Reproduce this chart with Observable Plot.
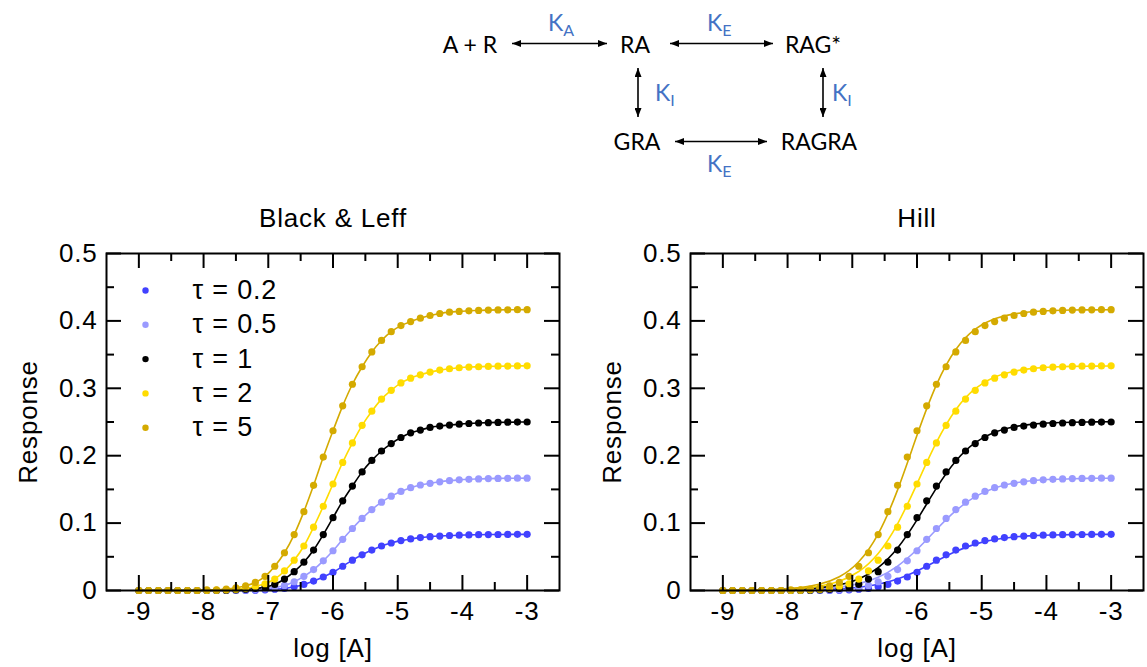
<!DOCTYPE html>
<html><head><meta charset="utf-8">
<script src="https://cdn.jsdelivr.net/npm/d3@7"></script>
<script src="https://cdn.jsdelivr.net/npm/@observablehq/plot@0.6"></script>
<style>
html,body{margin:0;padding:0;background:#fff;}
#wrap{position:relative;width:1147px;height:667px;overflow:hidden;background:#fff;}
#scheme{position:absolute;left:0;top:0;}
#left{position:absolute;left:0;top:190px;}
#right{position:absolute;left:573px;top:190px;}
#scheme text{font-family:Lato,'Open Sans',sans-serif;font-size:23px;}
</style></head>
<body><div id="wrap">
<svg id="scheme" width="1147" height="190">
<defs><marker id="ah" markerUnits="userSpaceOnUse" viewBox="0 0 9 7" refX="9" refY="3.5" markerWidth="9" markerHeight="7" orient="auto-start-reverse"><path d="M0,0L9,3.5L0,7z" fill="#000"/></marker></defs>
<g stroke="#000" stroke-width="1.6">
<line x1="512" y1="43.5" x2="607" y2="43.5" marker-start="url(#ah)" marker-end="url(#ah)"/>
<line x1="670" y1="43.5" x2="773" y2="43.5" marker-start="url(#ah)" marker-end="url(#ah)"/>
<line x1="638" y1="68" x2="638" y2="117" marker-start="url(#ah)" marker-end="url(#ah)"/>
<line x1="823" y1="68" x2="823" y2="117" marker-start="url(#ah)" marker-end="url(#ah)"/>
<line x1="675" y1="141.5" x2="767" y2="141.5" marker-start="url(#ah)" marker-end="url(#ah)"/>
</g>
<g fill="#000" text-anchor="middle">
<text x="470" y="53">A + R</text>
<text x="635" y="53">RA</text>
<text x="813" y="53">RAG*</text>
<text x="637" y="150">GRA</text>
<text x="819" y="150">RAGRA</text>
</g>
<g fill="#4472C4">
<text x="548" y="31">K<tspan font-size="16" dy="5">A</tspan></text>
<text x="707" y="31">K<tspan font-size="16" dy="5">E</tspan></text>
<text x="655" y="101">K<tspan font-size="16" dy="5">I</tspan></text>
<text x="832" y="101">K<tspan font-size="16" dy="5">I</tspan></text>
<text x="707" y="172">K<tspan font-size="16" dy="5">E</tspan></text>
</g>
</svg>
<div id="left"></div><div id="right"></div>
</div>
<script>
// ---- data ----
const logA = [-9,-8.85,-8.7,-8.55,-8.4,-8.25,-8.1,-7.95,-7.8,-7.65,-7.5,-7.35,-7.2,-7.05,-6.9,-6.75,-6.6,-6.45,-6.3,-6.15,-6,-5.85,-5.7,-5.55,-5.4,-5.25,-5.1,-4.95,-4.8,-4.65,-4.5,-4.35,-4.2,-4.05,-3.9,-3.75,-3.6,-3.45,-3.3,-3.15,-3];
const tauLabels = ["τ = 0.2","τ = 0.5","τ = 1","τ = 2","τ = 5"];
const tauColors = ["#4141ff","#9a9aff","#000000","#ffdc00","#d4aa00"];
const resp_02 = [0,0,0,0,0,0,0,0,0,0,0,0,0.0005,0.001,0.002,0.003,0.0055,0.009,0.014,0.020,0.027,0.036,0.045,0.053,0.060,0.066,0.0705,0.074,0.0765,0.0785,0.0798,0.0808,0.0816,0.0821,0.0825,0.0828,0.083,0.0831,0.0832,0.0833,0.0833];
const resp_05 = [0,0,0,0,0,0,0,0,0,0,0,0.001,0.0015,0.0025,0.0043,0.0075,0.013,0.021,0.031,0.044,0.059,0.076,0.092,0.107,0.120,0.131,0.140,0.147,0.1525,0.1565,0.159,0.1613,0.163,0.1642,0.165,0.1655,0.166,0.1663,0.1665,0.1666,0.1667];
const resp_1 = [0,0,0,0,0,0,0,0,0,0.0005,0.001,0.002,0.003,0.005,0.009,0.017,0.028,0.042,0.060,0.083,0.108,0.133,0.155,0.176,0.193,0.207,0.218,0.227,0.234,0.238,0.242,0.244,0.2455,0.2468,0.2478,0.2485,0.249,0.2494,0.2497,0.2499,0.25];
const resp_2 = [0,0,0,0,0,0,0,0,0.0005,0.001,0.002,0.003,0.006,0.010,0.017,0.029,0.045,0.066,0.094,0.125,0.158,0.190,0.219,0.245,0.266,0.284,0.297,0.308,0.315,0.320,0.324,0.327,0.329,0.3305,0.3315,0.332,0.3325,0.3328,0.333,0.3332,0.3333];
const resp_5 = [0,0,0,0,0,0,0,0.001,0.001,0.002,0.004,0.007,0.012,0.021,0.036,0.056,0.083,0.117,0.156,0.198,0.237,0.274,0.306,0.332,0.354,0.371,0.384,0.393,0.399,0.404,0.408,0.411,0.413,0.414,0.415,0.4155,0.416,0.4163,0.4165,0.4166,0.4167];
// Hill fits (right panel lines)
const fitLogA = [-9,-8.7,-8.4,-8.1,-7.8,-7.5,-7.2,-6.9,-6.6,-6.3,-6,-5.7,-5.4,-5.1,-4.8,-4.5,-4.2,-3.9,-3.6,-3.3,-3];
const hill_02 = [0,0.0001,0.0001,0.0003,0.0006,0.0012,0.0024,0.0048,0.0093,0.0171,0.0290,0.0437,0.0579,0.0688,0.0756,0.0794,0.0814,0.0824,0.0829,0.0832,0.0833];
const hill_05 = [0.0001,0.0001,0.0003,0.0006,0.0012,0.0025,0.0051,0.0102,0.0198,0.0363,0.0608,0.0904,0.1184,0.1392,0.1522,0.1594,0.1631,0.1650,0.1659,0.1664,0.1666];
const hill_1 = [0.0001,0.0002,0.0004,0.0009,0.0019,0.0040,0.0083,0.0172,0.0341,0.0631,0.1048,0.1518,0.1921,0.2193,0.2349,0.2429,0.2469,0.2488,0.2497,0.2501,0.2503];
const hill_2 = [0.0002,0.0003,0.0007,0.0015,0.0031,0.0066,0.0138,0.0282,0.0550,0.0990,0.1583,0.2197,0.2683,0.2994,0.3166,0.3253,0.3295,0.3315,0.3325,0.3329,0.3331];
const hill_5 = [0.0002,0.0004,0.0009,0.0020,0.0043,0.0095,0.0204,0.0426,0.0840,0.1493,0.2303,0.3051,0.3576,0.3878,0.4031,0.4104,0.4139,0.4154,0.4161,0.4164,0.4166];
const xTicks = [-9,-8,-7,-6,-5,-4,-3];
const xTickLabels = ["-9","-8","-7","-6","-5","-4","-3"];
const xMinor = [-8.5,-7.5,-6.5,-5.5,-4.5,-3.5];
const yTicks = [0,0.1,0.2,0.3,0.4,0.5];
const yTickLabels = ["0","0.1","0.2","0.3","0.4","0.5"];
const yMinor = [0.05,0.15,0.25,0.35,0.45];

// ---- tables ----
const respSeries = [resp_02, resp_05, resp_1, resp_2, resp_5];
const hillSeries = [hill_02, hill_05, hill_1, hill_2, hill_5];
const points = respSeries.flatMap((s, j) => s.map((v, i) => ({x: logA[i], y: v, tau: tauLabels[j]})));
const fits = hillSeries.flatMap((s, j) => s.map((v, i) => ({x: fitLogA[i], y: v, tau: tauLabels[j]})));

const H = 337; // frame height
const FS = 26;
function panel(title, lineData, curve, legend, mL, mR, W) {
  const color = {domain: tauLabels, range: tauColors};
  const FW = W - mL - mR;
  const marks = [
    Plot.line(lineData, {x: "x", y: "y", z: "tau", stroke: "tau", strokeWidth: 1.6, curve}),
    Plot.dot(points, {x: "x", y: "y", fill: "tau", r: 3.6}),
    Plot.frame({stroke: "#000", strokeWidth: 2}),
    Plot.tickX(xTicks, {x: d => d, insetTop: H - 15, strokeWidth: 2}),
    Plot.tickX(xTicks, {x: d => d, insetBottom: H - 15, strokeWidth: 2}),
    Plot.tickX(xMinor, {x: d => d, insetTop: H - 8, strokeWidth: 2}),
    Plot.tickX(xMinor, {x: d => d, insetBottom: H - 8, strokeWidth: 2}),
    Plot.tickY(yTicks, {y: d => d, insetRight: FW - 15, strokeWidth: 2}),
    Plot.tickY(yTicks, {y: d => d, insetLeft: FW - 15, strokeWidth: 2}),
    Plot.tickY(yMinor, {y: d => d, insetRight: FW - 8, strokeWidth: 2}),
    Plot.tickY(yMinor, {y: d => d, insetLeft: FW - 8, strokeWidth: 2}),
    Plot.axisX({ticks: xTicks, tickSize: 0, tickPadding: 11, tickFormat: (d, i) => xTickLabels[i], label: null, fontSize: FS}),
    Plot.axisY({ticks: yTicks, tickSize: 0, tickPadding: 9, tickFormat: (d, i) => yTickLabels[i], label: null, fontSize: FS}),
    Plot.text([title], {frameAnchor: "top", dy: -35, lineAnchor: "middle", textAnchor: "middle", fontSize: FS}),
    Plot.text(["log [A]"], {frameAnchor: "bottom", dy: 58, lineAnchor: "middle", textAnchor: "middle", fontSize: FS}),
    Plot.text(["Response"], {frameAnchor: "left", dx: -78, rotate: -90, lineAnchor: "middle", textAnchor: "middle", fontSize: FS})
  ];
  if (legend) {
    tauLabels.forEach((t, i) => {
      marks.push(Plot.dot([t], {frameAnchor: "top-left", dx: 39, dy: 37 + 34.3 * i, r: 3.2, fill: tauColors[i]}));
      marks.push(Plot.text([t], {frameAnchor: "top-left", dx: 86, dy: 37 + 34.3 * i, textAnchor: "start", lineAnchor: "middle", fontSize: FS + 1}));
    });
  }
  return Plot.plot({
    width: W, height: 477,
    marginTop: 63, marginBottom: 77, marginLeft: mL, marginRight: mR,
    x: {domain: [-9.5, -2.5]},
    y: {domain: [0, 0.5]},
    color,
    style: {fontFamily: "'Liberation Sans', Arial, sans-serif", fontSize: FS + "px", color: "#000", background: "transparent", overflow: "visible", letterSpacing: "0.8px"},
    marks
  });
}
document.getElementById("left").appendChild(panel("Black & Leff", points, "monotone-x", true, 106, 14, 573));
document.getElementById("right").appendChild(panel("Hill", fits, "natural", false, 117, 4, 574));
</script>
</body></html>
